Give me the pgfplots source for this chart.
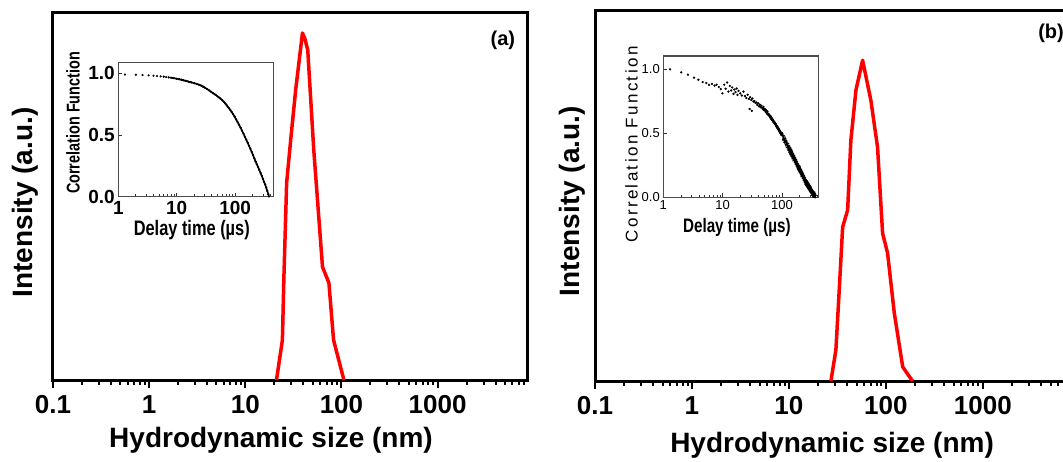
\documentclass[border=0pt]{standalone}
\usepackage{fontspec}
\setmainfont{Liberation Sans}
\newfontfamily\condfont[FakeStretch=0.78]{Liberation Sans}
\newfontfamily\spacedfont[LetterSpace=14]{Liberation Sans}
\usepackage{pgfplots}
\usepackage{pgfplotstable}
\pgfplotsset{compat=1.18}
\newcommand{\fs}[1]{\fontsize{#1}{#1}\selectfont}

\pgfplotstableread{
x y
21.1 0
24.3 0.115
25.2 0.297
26.9 0.568
29.6 0.69
33.4 0.836
39.3 1.0
41.5 0.985
44.6 0.951
51.5 0.663
63.5 0.326
74.0 0.28
82.8 0.115
106 0
}\distA

\pgfplotstableread{
x y
27.1 0
30.5 0.097
33.0 0.283
35.8 0.48
40.3 0.533
43.5 0.75
49.1 0.907
57.5 1.0
70.0 0.875
82.0 0.729
92.4 0.461
104 0.399
122 0.212
149 0.044
188 0
}\distB

\pgfplotstableread{
t g
1.3 0.990
2.0 0.988
2.6 0.986
3.3 0.983
4.0 0.980
4.6 0.978
5.3 0.975
6.0 0.973
6.6 0.970
7.3 0.967
8.0 0.964
9.0 0.960
10 0.956
11 0.952
12 0.948
13 0.944
14 0.940
15 0.936
16 0.932
17 0.929
18 0.926
20 0.920
22 0.914
24 0.908
26 0.901
28 0.893
30 0.885
33 0.873
36 0.861
39 0.849
42 0.838
45 0.829
48 0.820
52 0.807
56 0.795
60 0.782
64 0.769
68 0.755
72 0.740
77 0.722
82 0.705
87 0.687
92 0.670
98 0.648
104 0.626
110 0.605
117 0.582
124 0.559
131 0.536
139 0.510
147 0.485
155 0.462
164 0.437
173 0.413
182 0.389
192 0.363
202 0.338
213 0.311
224 0.285
235 0.263
247 0.240
259 0.217
272 0.193
285 0.170
298 0.146
312 0.121
326 0.099
340 0.074
355 0.047
370 0.020
380 0.002
}\corrA

\pgfplotstableread{
t g
1.3 1.000
2.0 0.976
2.6 0.958
3.3 0.935
3.9 0.918
4.6 0.900
5.3 0.893
5.9 0.878
6.6 0.886
7.3 0.872
7.9 0.880
8.6 0.862
9.3 0.845
9.9 0.812
10.6 0.880
11.2 0.848
11.9 0.897
12.5 0.826
13.2 0.870
13.9 0.835
14.5 0.858
15.2 0.808
15.8 0.842
16.5 0.822
17.2 0.850
17.8 0.800
18.5 0.831
19.8 0.812
21.1 0.795
22.4 0.826
23.8 0.790
25.1 0.775
26.4 0.801
27.7 0.768
28.5 0.690
29.0 0.782
30.4 0.760
31.0 0.675
31.7 0.772
33.0 0.748
34.3 0.752
35.6 0.738
37.0 0.741
38.3 0.722
39.6 0.735
41.0 0.711
42.2 0.725
43.6 0.704
45.0 0.715
46.2 0.700
47.5 0.688
48.8 0.706
50.2 0.680
51.5 0.690
52.8 0.668
54.1 0.680
55.4 0.655
56.8 0.670
58.1 0.645
59.4 0.652
60.7 0.636
62.0 0.641
63.4 0.622
64.7 0.633
66.0 0.610
67.3 0.618
68.6 0.600
70.0 0.608
71.3 0.588
72.6 0.596
73.9 0.580
75.2 0.586
76.6 0.570
77.9 0.575
79.2 0.558
80.5 0.563
81.8 0.548
83.2 0.555
84.5 0.537
85.8 0.544
87.1 0.528
88.4 0.534
89.8 0.515
91.1 0.524
92.4 0.505
93.7 0.514
95.0 0.497
96.4 0.503
97.7 0.486
99.0 0.494
101 0.500
104 0.450
107 0.480
110 0.430
113 0.460
116 0.410
119 0.440
122 0.390
125 0.420
128 0.370
131 0.400
134 0.350
137 0.383
140 0.335
143 0.368
146 0.320
149 0.353
152 0.305
155 0.338
158 0.290
161 0.323
164 0.275
167 0.308
170 0.260
173 0.293
176 0.245
179 0.278
182 0.230
185 0.263
188 0.216
191 0.250
194 0.205
197 0.239
200 0.194
204 0.226
208 0.179
212 0.211
216 0.164
220 0.196
224 0.149
228 0.181
232 0.134
236 0.166
240 0.119
244 0.151
248 0.104
252 0.138
256 0.093
260 0.129
264 0.084
268 0.120
272 0.075
276 0.111
280 0.066
284 0.102
288 0.057
292 0.093
296 0.048
300 0.084
305 0.038
310 0.073
315 0.027
320 0.061
325 0.016
330 0.050
335 0.006
340 0.043
345 0.004
350 0.035
355 0.002
360 0.026
365 0.001
370 0.016
}\corrB

\begin{document}
\begin{tikzpicture}
% ---------------- panel (a) ----------------
\begin{axis}[xmode=log, scale only axis, anchor=south west,
  at={(53pt,-380pt)}, width=474pt, height=367pt,
  xmin=0.1, xmax=8500, ymin=0, ymax=1.0576,
  axis line style={line width=3pt},
  tick align=outside, xtick pos=left, ytick pos=left,
  xtick={0.1,1,10,100,1000},
  xticklabels={0.1,1,10,100,1000},
  minor xtick={0.2,0.3,0.4,0.5,0.6,0.7,0.8,0.9,2,3,4,5,6,7,8,9,20,30,40,50,60,70,80,90,200,300,400,500,600,700,800,900,2000,3000,4000,5000,6000,7000,8000},
  ytick=\empty,
  major tick length=8pt, minor tick length=4.5pt,
  every tick/.append style={line width=2pt, black},
  xticklabel style={font=\bfseries\fs{26}, yshift=-4pt},
  xlabel={Hydrodynamic size (nm)}, ylabel={Intensity (a.u.)},
  xlabel style={font=\bfseries\fs{28}, at={(axis description cs:0.46,-0.1635)}, anchor=center},
  ylabel style={font=\bfseries\fs{28}, at={(axis description cs:-0.059,0.4837)}, anchor=center}]
  \addplot[red, line width=3.5pt, line join=round] table[x=x,y=y] {\distA};
  \node[font=\bfseries\fs{20}] at (rel axis cs:0.949,0.926) {(a)};
\end{axis}
\begin{axis}[xmode=log, scale only axis, anchor=south west,
  at={(118.3pt,-196.7pt)}, width=155pt, height=134pt,
  xmin=1, xmax=450, ymin=0, ymax=1.086,
  axis line style={line width=1.2pt, black!70},
  tick align=inside, xtick pos=left, ytick pos=left,
  xtick={1,10,100}, xticklabels={1,10,100},
  minor xtick={2,3,4,5,6,7,8,9,20,30,40,50,60,70,80,90,200,300,400},
  ytick={0,0.5,1}, yticklabels={0.0,0.5,1.0},
  major tick length=4pt, minor tick length=2.5pt,
  every tick/.append style={line width=0.8pt, black!80},
  xticklabel style={font=\bfseries\fs{19}, yshift=-1pt},
  yticklabel style={font=\bfseries\fs{19}},
  xlabel={Delay time (µs)}, ylabel={Correlation Function},
  xlabel style={font=\condfont\bfseries\fs{21}, at={(axis description cs:0.474,-0.2485)}, anchor=center},
  ylabel style={font=\condfont\bfseries\fs{18.5}, at={(axis description cs:-0.292,0.55)}, anchor=center}]
  \addplot[black, line width=1.6pt, skip coords between index={0}{10}] table[x=t,y=g] {\corrA};
  \addplot[only marks, mark=*, mark size=0.9pt, black] table[x=t,y=g] {\corrA};
\end{axis}
% ---------------- panel (b) ----------------
\begin{axis}[xmode=log, scale only axis, anchor=south west,
  at={(595pt,-381pt)}, width=478pt, height=370pt,
  xmin=0.1, xmax=8500, ymin=0, ymax=1.1536,
  axis line style={line width=3pt},
  tick align=outside, xtick pos=left, ytick pos=left,
  xtick={0.1,1,10,100,1000},
  xticklabels={0.1,1,10,100,1000},
  minor xtick={0.2,0.3,0.4,0.5,0.6,0.7,0.8,0.9,2,3,4,5,6,7,8,9,20,30,40,50,60,70,80,90,200,300,400,500,600,700,800,900,2000,3000,4000,5000,6000,7000,8000},
  ytick=\empty,
  major tick length=8pt, minor tick length=4.5pt,
  every tick/.append style={line width=2pt, black},
  xticklabel style={font=\bfseries\fs{26}, yshift=-4pt},
  xlabel={Hydrodynamic size (nm)}, ylabel={Intensity (a.u.)},
  xlabel style={font=\bfseries\fs{28}, at={(axis description cs:0.496,-0.173)}, anchor=center},
  ylabel style={font=\bfseries\fs{28}, at={(axis description cs:-0.048,0.486)}, anchor=center}]
  \addplot[red, line width=3.5pt, line join=round] table[x=x,y=y] {\distB};
  \node[font=\bfseries\fs{20}] at (rel axis cs:0.954,0.94) {(b)};
\end{axis}
\begin{axis}[xmode=log, scale only axis, anchor=south west,
  at={(663.3pt,-197.3pt)}, width=155pt, height=141.3pt,
  xmin=1, xmax=409, ymin=0, ymax=1.104,
  axis line style={line width=1.2pt, black!70},
  tick align=inside, xtick pos=left, ytick pos=left,
  xtick={1,10,100}, xticklabels={1,10,100},
  minor xtick={2,3,4,5,6,7,8,9,20,30,40,50,60,70,80,90,200,300,400},
  ytick={0,0.5,1}, yticklabels={0.0,0.5,1.0},
  major tick length=4pt, minor tick length=2.5pt,
  every tick/.append style={line width=0.8pt, black!80},
  xticklabel style={font=\fs{13}},
  yticklabel style={font=\fs{13}},
  xlabel={Delay time (µs)}, ylabel={Correlation Function},
  xlabel style={font=\condfont\bfseries\fs{19.5}, at={(axis description cs:0.475,-0.214)}, anchor=center},
  ylabel style={font=\spacedfont\fs{17}, at={(axis description cs:-0.205,0.374)}, anchor=center}]
  \addplot[black, line width=0.7pt, skip coords between index={0}{45}] table[x=t,y=g] {\corrB};
  \addplot[only marks, mark=*, mark size=0.95pt, black] table[x=t,y=g] {\corrB};
\end{axis}
\pgfresetboundingbox
\useasboundingbox (0pt,0pt) rectangle (1063pt,-462pt);
\end{tikzpicture}
\end{document}
